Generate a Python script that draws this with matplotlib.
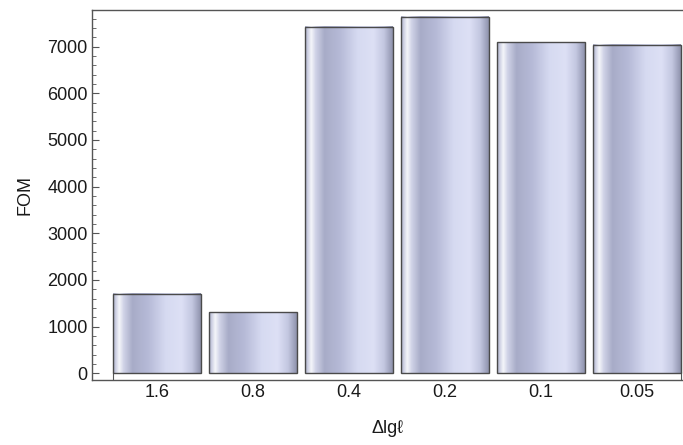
import numpy as np
import matplotlib
matplotlib.use("Agg")
import matplotlib.pyplot as plt
from matplotlib.colors import LinearSegmentedColormap
from matplotlib.ticker import MultipleLocator

categories = ["1.6", "0.8", "0.4", "0.2", "0.1", "0.05"]
fom = [1700, 1305, 7415, 7630, 7090, 7030]

plt.rcParams['font.family'] = ['Liberation Sans', 'DejaVu Sans']
plt.rcParams['font.size'] = 13

# horizontal shading across each bar (Mathematica-like metallic look)
shade = LinearSegmentedColormap.from_list("bar_shade", [
    (0.00, "#a9acc4"),
    (0.03, "#cdd0e3"),
    (0.07, "#f5f6fa"),
    (0.12, "#d0d3e7"),
    (0.22, "#a8acc8"),
    (0.40, "#b6bad7"),
    (0.60, "#d6daf1"),
    (0.78, "#dde0f5"),
    (0.90, "#c3c7e0"),
    (0.97, "#9ea2bd"),
    (1.00, "#8e92ab"),
])
grad = np.linspace(0, 1, 256).reshape(1, -1)

fig = plt.figure(figsize=(6.83, 4.45), dpi=100)
ax = fig.add_axes([92 / 683, 65 / 445, 591 / 683, 370 / 445])

x = np.arange(1, len(categories) + 1)
width = 0.91
bars = ax.bar(x, fom, width=width, facecolor="none", edgecolor="#4a4a4a",
              linewidth=1.0, zorder=3)
for b in bars:
    x0, y0 = b.get_x(), b.get_y()
    ax.imshow(grad, cmap=shade, aspect="auto", interpolation="bilinear",
              extent=(x0, x0 + b.get_width(), y0, y0 + b.get_height()), zorder=2)

ax.set_xlim(1 - 65 / 96, 1 + 526 / 96)
ax.set_ylim(-144, 7785)

ax.set_xticks(x)
ax.set_xticklabels(categories)
ax.set_xticks([1 - width / 2, 6 + width / 2], minor=True)
ax.tick_params(axis="x", which="major", length=0, pad=3)
ax.tick_params(axis="x", which="minor", direction="in", length=6, width=0.8, color="#555555")

ax.yaxis.set_major_locator(MultipleLocator(1000))
ax.yaxis.set_minor_locator(MultipleLocator(200))
ax.tick_params(axis="y", which="major", direction="in", length=5, width=0.8,
               color="#555555", pad=3)
ax.tick_params(axis="y", which="minor", direction="in", length=3, width=0.6, color="#555555")
ax.tick_params(labelcolor="#1a1a1a")

for s in ["left", "bottom", "top"]:
    ax.spines[s].set_color("#555555")
    ax.spines[s].set_linewidth(1.0)
ax.spines["right"].set_visible(False)

ax.set_ylabel("FOM", va="center", color="#1a1a1a")
ax.yaxis.set_label_coords(-0.113, 0.5)
ax.set_xlabel("Δlg\u2113", color="#1a1a1a")
ax.xaxis.set_label_coords(0.5, -0.108)

fig.savefig("out.png", dpi=100)
